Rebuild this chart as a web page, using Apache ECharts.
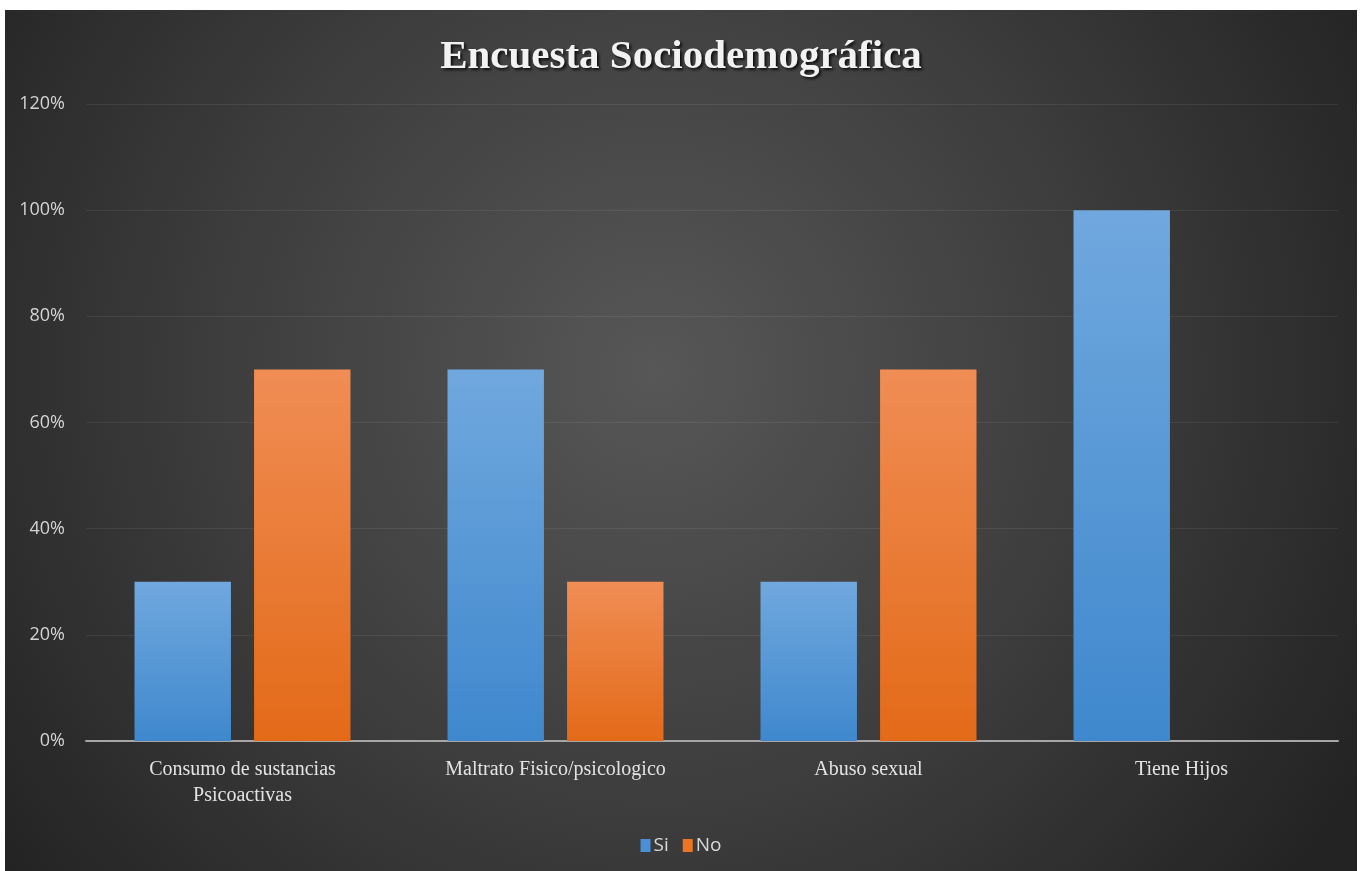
<!DOCTYPE html>
<html>
<head>
<meta charset="utf-8">
<script src="https://cdn.jsdelivr.net/npm/echarts@6/dist/echarts.min.js"></script>
<style>
  html, body { margin: 0; padding: 0; background: #ffffff; }
  #chart { position: absolute; left: 5px; top: 10px; width: 1352px; height: 861px; }
</style>
</head>
<body>
<div id="chart"></div>
<script>
const titleText = 'Encuesta Sociodemográfica';
const categories = ['Consumo de sustancias\nPsicoactivas', 'Maltrato Fisico/psicologico', 'Abuso sexual', 'Tiene Hijos'];
const seriesNames = ['Si', 'No'];
const siValues = [30, 70, 30, 100];
const noValues = [70, 30, 70, 0];
const yTicks = { min: 0, max: 120, interval: 20 };

const chart = echarts.init(document.getElementById('chart'), null, { renderer: 'canvas' });

function vgrad(top, bottom) {
  return new echarts.graphic.LinearGradient(0, 0, 0, 1, [
    { offset: 0, color: top },
    { offset: 1, color: bottom }
  ]);
}

const option = {
  backgroundColor: {
    type: 'radial', x: 0.48, y: 0.42, r: 0.95,
    colorStops: [
      { offset: 0, color: '#575757' },
      { offset: 0.55, color: '#3c3c3c' },
      { offset: 1, color: '#232323' }
    ]
  },
  title: {
    text: titleText,
    left: 'center',
    top: 22,
    textStyle: {
      fontFamily: 'Liberation Serif',
      fontWeight: 'bold',
      fontSize: 41,
      color: '#f2f2f2',
      textShadowColor: 'rgba(0,0,0,0.8)',
      textShadowBlur: 3,
      textShadowOffsetX: 2,
      textShadowOffsetY: 2
    }
  },
  legend: {
    bottom: 11,
    left: 'center',
    itemWidth: 10,
    itemHeight: 13,
    itemGap: 14,
    icon: 'rect',
    textStyle: { color: '#d9d9d9', fontFamily: 'Open Sans', fontSize: 19, padding: [0, 0, 0, -2] }
  },
  grid: { left: 81, right: 19, top: 94, bottom: 130, containLabel: false },
  xAxis: {
    type: 'category',
    data: categories,
    axisLine: { show: true, lineStyle: { color: '#a6a6a6', width: 2 } },
    axisTick: { show: false },
    axisLabel: {
      color: '#e3e3e3',
      fontFamily: 'Liberation Serif',
      fontSize: 20,
      lineHeight: 26,
      margin: 16,
      interval: 0
    }
  },
  yAxis: {
    type: 'value',
    min: yTicks.min,
    max: yTicks.max,
    interval: yTicks.interval,
    axisLine: { show: false },
    axisTick: { show: false },
    axisLabel: {
      color: '#d4d4d4',
      fontFamily: 'Open Sans',
      fontSize: 18,
      margin: 21,
      formatter: v => v + '%'
    },
    splitLine: { lineStyle: { color: 'rgba(255,255,255,0.07)', width: 1 } }
  },
  series: [
    {
      name: seriesNames[0],
      type: 'bar',
      data: siValues,
      barGap: '24%',
      barCategoryGap: '31%',
      itemStyle: {
        color: vgrad('#70a8de', '#3f88cd'),
        shadowColor: 'rgba(0,0,0,0.55)',
        shadowBlur: 6,
        shadowOffsetX: 3,
        shadowOffsetY: 0
      }
    },
    {
      name: seriesNames[1],
      type: 'bar',
      data: noValues,
      itemStyle: {
        color: vgrad('#f08d55', '#e36a18'),
        shadowColor: 'rgba(0,0,0,0.55)',
        shadowBlur: 6,
        shadowOffsetX: 3,
        shadowOffsetY: 0
      }
    }
  ]
};
option.legend.data = [
  { name: seriesNames[0], itemStyle: { color: '#4a90d6' } },
  { name: seriesNames[1], itemStyle: { color: '#ed7424' } }
];
chart.setOption(option);
</script>
</body>
</html>
